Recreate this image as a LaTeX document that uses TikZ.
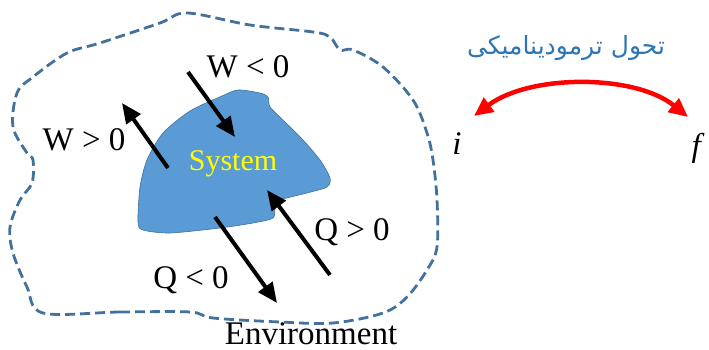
\documentclass[tikz,border=0pt]{standalone}
\usepackage{fontspec}
\setmainfont{Liberation Serif}
\newfontfamily\arabicfont[Script=Arabic]{DejaVu Sans}
\TeXXeTstate=1
\usetikzlibrary{arrows.meta}
\definecolor{blobfill}{HTML}{5B9BD5}
\definecolor{blobline}{HTML}{41719C}
\definecolor{envline}{HTML}{41719C}
\definecolor{persblue}{HTML}{2E75B6}
\definecolor{sysyellow}{HTML}{FFFF00}
\definecolor{arrred}{HTML}{FF0000}
\tikzset{
  lbl/.style={font=\fontsize{33}{36}\selectfont, inner sep=0pt},
  flow/.style={line width=4pt, -{Triangle[length=20pt,width=17pt]}},
}
\begin{document}
\begin{tikzpicture}[x=1pt,y=-1pt]
\useasboundingbox (0,0) rectangle (709,350);
% environment boundary
\draw[envline, line width=2.8pt, dash pattern=on 10pt off 5pt]
  plot[smooth cycle, tension=0.55] coordinates {
  (43,313) (120,312) (190,312) (213,318) (280,322) (333,323) (383,313) (407,297) (427,270)
  (437,247) (437,200) (433,160) (427,133) (413,100) (383,67) (353,50) (340,50)
  (330,37) (313,32) (250,25) (187,13) (160,23) (100,43) (67,53) (33,77) (17,93)
  (13,127) (27,153) (33,160) (32,183) (20,200) (10,227) (13,253) (27,287)};
% system blob
\fill[blobfill, draw=blobline, line width=0.6pt]
  plot[smooth cycle, tension=0.45] coordinates {
  (138,222) (140,187) (147,160) (163,133) (190,111) (222,96) (238,90) (260,93)
  (268,97) (270,107) (283,120) (303,140) (320,160) (330,178) (327,187) (307,193)
  (280,200) (275,207) (273,218) (253,223) (220,228) (170,233) (143,230)};
\node[lbl, text=sysyellow, font=\fontsize{30}{33}\selectfont] (sys) at (233,164) {System};
% arrows
\coordinate (wina) at (188,72);  \coordinate (winb) at (235,137);
\coordinate (wouta) at (168,168); \coordinate (woutb) at (122,103);
\coordinate (qina) at (330,275); \coordinate (qinb) at (267,190);
\coordinate (qouta) at (215,217); \coordinate (qoutb) at (277,303);
\draw[flow] (wina) -- (winb);
\draw[flow] (wouta) -- (woutb);
\draw[flow] (qina) -- (qinb);
\draw[flow] (qouta) -- (qoutb);
% labels
\node[lbl] (wneg) at (248,67) {W < 0};
\node[lbl] (wpos) at (84,140) {W > 0};
\node[lbl] (qpos) at (352,232) {Q > 0};
\node[lbl] (qneg) at (191,280) {Q < 0};
\node[lbl, anchor=base] (env) at (311,344) {Environment};
% right side
\node[lbl] (ni) at (457,144) {\textit{i}};
\node[lbl] (nf) at (698,148) {\textit{f}};
\coordinate (ra) at (474,116);
\coordinate (rb) at (688,117);
\draw[arrred, line width=4.5pt, {Triangle[length=19pt,width=17pt]}-{Triangle[length=19pt,width=17pt]}]
  (ra) .. controls (530,74) and (635,74) .. (rb);
\node[inner sep=0pt, text=persblue, font=\arabicfont\fontsize{25}{28}\selectfont] (title) at (566,48) {\beginR تحول ترمودینامیکی\endR};
\end{tikzpicture}
\end{document}
